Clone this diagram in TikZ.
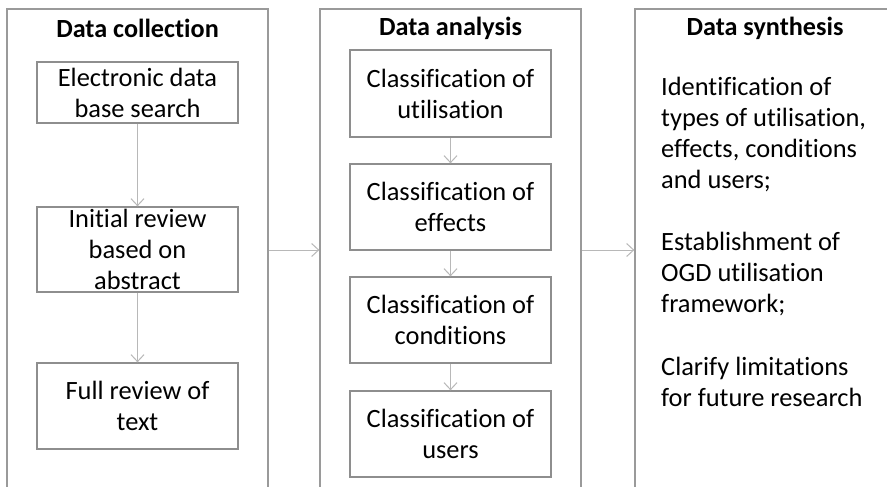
\documentclass[tikz,border=0pt]{standalone}
\usepackage{fontspec}
\setmainfont{Carlito}[RawFeature={-liga;-clig;-dlig}]
\usetikzlibrary{arrows.meta}
\definecolor{panelgray}{HTML}{9A9A9A}
\definecolor{boxgray}{HTML}{8E8E8E}
\definecolor{arrowgray}{HTML}{B8B8B8}
\tikzset{
  panel/.style={draw=panelgray, line width=1.3pt, inner sep=0pt},
  stepbox/.style={draw=boxgray, line width=1.3pt, minimum width=201pt, align=center, inner sep=0pt,
    font=\fontsize{26.4pt}{31pt}\selectfont},
  paneltitle/.style={font=\fontsize{26.2pt}{31pt}\selectfont\bfseries, inner sep=0pt},
  synth/.style={anchor=west, align=left, inner sep=0pt, font=\fontsize{26.4pt}{31pt}\selectfont},
  flow/.style={draw=arrowgray, line width=1pt, -{Straight Barb[length=7pt,width=13pt]}}
}
\begin{document}
\begin{tikzpicture}[x=1pt, y=-1pt]
\useasboundingbox (0,0) rectangle (887,487);
\fill[white] (0,0) rectangle (887,487);
\clip (0,0) rectangle (887,487);

% three stage panels (running off the lower edge)
\node[panel, minimum width=261pt, minimum height=520pt] (lp) at (137.5,269) {};
\node[panel, minimum width=261pt, minimum height=520pt] (mp) at (450.5,269) {};
\node[panel, minimum width=300pt, minimum height=520pt] (rp) at (785,269) {};

% panel headings
\node[paneltitle] (t1) at (137.5,28.5) {Data collection};
\node[paneltitle] (t2) at (450.5,28.5) {Data analysis};
\node[paneltitle] (t3) at (765,28.5) {Data synthesis};

% data collection steps
\node[stepbox, minimum height=61pt] (c1) at (137.5,92.5) {Electronic data\\base search};
\node[stepbox, minimum height=85pt] (c2) at (137.5,249.5) {Initial review\\based on\\abstract};
\node[stepbox, minimum height=86pt] (c3) at (137.5,406) {Full review of\\text};

% data analysis steps
\node[stepbox, minimum height=87pt] (a1) at (450.5,93.5) {Classification of\\utilisation};
\node[stepbox, minimum height=86pt] (a2) at (450.5,207) {Classification of\\effects};
\node[stepbox, minimum height=86pt] (a3) at (450.5,320) {Classification of\\conditions};
\node[stepbox, minimum height=86pt] (a4) at (450.5,434) {Classification of\\users};

% data synthesis outcomes
\node[synth] (s1) at (661,135) {Identification of\\types of utilisation,\\effects, conditions\\and users;};
\node[synth] (s2) at (661,274) {Establishment of\\OGD utilisation\\framework;};
\node[synth] (s3) at (661,381.5) {Clarify limitations\\for future research};

% flow within panels
\draw[flow] (c1) -- (c2);
\draw[flow] (c2) -- (c3);
\draw[flow] (a1) -- (a2);
\draw[flow] (a2) -- (a3);
\draw[flow] (a3) -- (a4);

% flow between panels
\coordinate (row) at (0,250);
\draw[flow] (lp.east |- row) -- (mp.west |- row);
\draw[flow] (mp.east |- row) -- (rp.west |- row);
\end{tikzpicture}
\end{document}
